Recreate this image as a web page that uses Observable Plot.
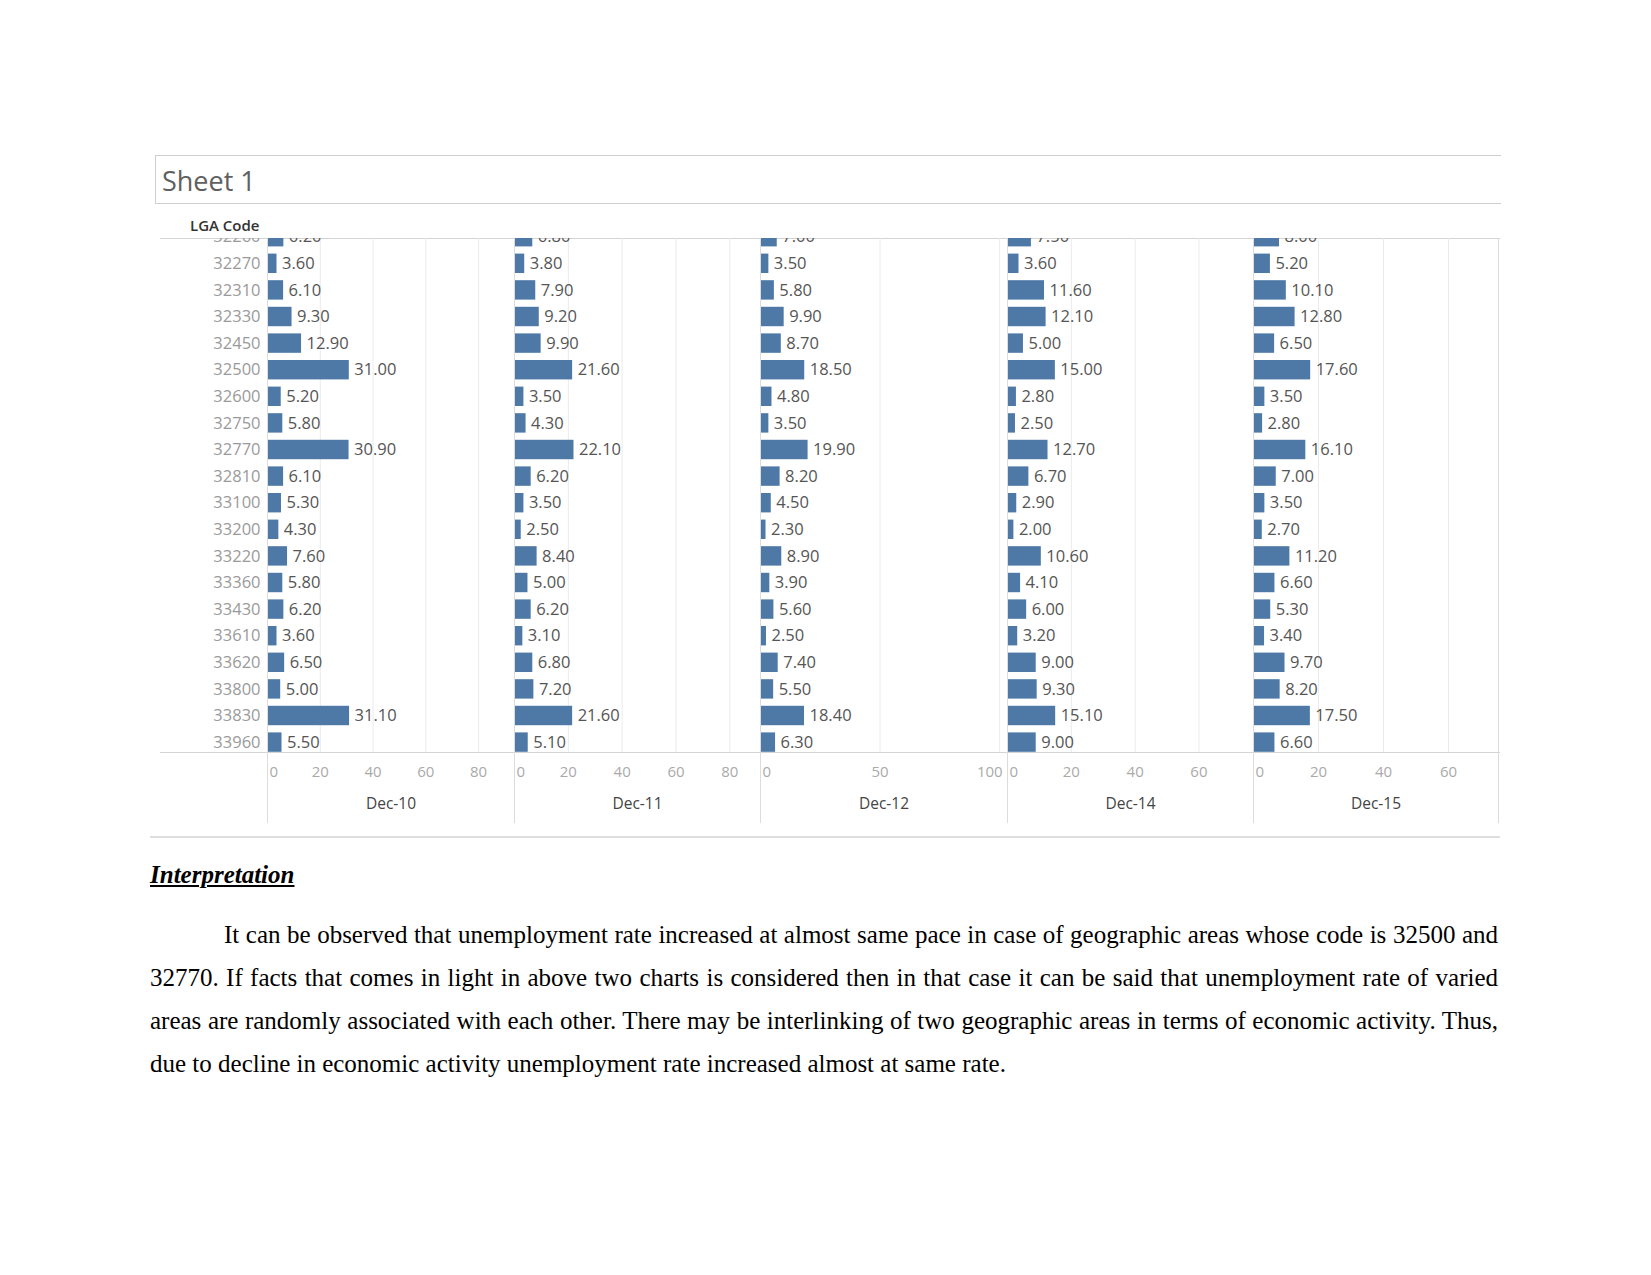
<!DOCTYPE html>
<html>
<head>
<meta charset="utf-8">
<script src="https://cdn.jsdelivr.net/npm/d3@7"></script>
<script src="https://cdn.jsdelivr.net/npm/@observablehq/plot@0.6"></script>
<style>
html, body { margin: 0; padding: 0; background: #fff; }
#page { position: relative; width: 1651px; height: 1275px; overflow: hidden; font-family: "Open Sans", sans-serif; }
.abs { position: absolute; }
#sheet { left: 155px; top: 155px; width: 1345px; height: 47px; border-top: 1.5px solid #cfcfcf; border-left: 1.5px solid #cfcfcf; border-bottom: 1.5px solid #cfcfcf; }
#sheetTitle { left: 162px; top: 164px; font-size: 27px; color: #606060; line-height: 34px; }
#lga { left: 190px; top: 215px; font-size: 15px; font-weight: 600; color: #333; line-height: 20px; }
.hline { background: #d4d4d4; height: 1px; }
.vline { background: #dcdcdc; width: 1px; }
#rule { left: 150px; top: 836px; width: 1350px; height: 2px; background: #dedede; }
#interp { left: 150px; top: 862px; font-family: "Liberation Serif", "Times New Roman", serif; font-size: 25px; font-weight: bold; font-style: italic; text-decoration: underline; line-height: 25px; color: #000; }
#para { left: 150px; top: 913px; width: 1348px; font-family: "Liberation Serif", "Times New Roman", serif; font-size: 25px; line-height: 43px; text-align: justify; text-indent: 74px; color: #000; }
</style>
</head>
<body>
<div id="page">
  <div id="sheet" class="abs"></div>
  <div id="sheetTitle" class="abs">Sheet 1</div>
  <div id="lga" class="abs">LGA Code</div>
  <div class="abs hline" style="left:160px;top:238px;width:1340px;"></div>
  <div class="abs hline" style="left:160px;top:752px;width:1340px;"></div>
  <div id="rule" class="abs"></div>
  <div id="interp" class="abs">Interpretation</div>
  <div id="para" class="abs">It can be observed that unemployment rate increased at almost same pace in case of geographic areas whose code is 32500 and 32770. If facts that comes in light in above two charts is considered then in that case it can be said that unemployment rate of varied areas are randomly associated with each other. There may be interlinking of two geographic areas in terms of economic activity. Thus, due to decline in economic activity unemployment rate increased almost at same rate.</div>
</div>
<script>
// ---- Data ----
const codes = ["32260","32270","32310","32330","32450","32500","32600","32750","32770","32810",
               "33100","33200","33220","33360","33430","33610","33620","33800","33830","33960"];
const periods = ["Dec-10","Dec-11","Dec-12","Dec-14","Dec-15"];
const dec10 = [6.20, 3.60, 6.10, 9.30, 12.90, 31.00, 5.20, 5.80, 30.90, 6.10, 5.30, 4.30, 7.60, 5.80, 6.20, 3.60, 6.50, 5.00, 31.10, 5.50];
const dec11 = [6.80, 3.80, 7.90, 9.20, 9.90, 21.60, 3.50, 4.30, 22.10, 6.20, 3.50, 2.50, 8.40, 5.00, 6.20, 3.10, 6.80, 7.20, 21.60, 5.10];
const dec12 = [7.00, 3.50, 5.80, 9.90, 8.70, 18.50, 4.80, 3.50, 19.90, 8.20, 4.50, 2.30, 8.90, 3.90, 5.60, 2.50, 7.40, 5.50, 18.40, 6.30];
const dec14 = [7.50, 3.60, 11.60, 12.10, 5.00, 15.00, 2.80, 2.50, 12.70, 6.70, 2.90, 2.00, 10.60, 4.10, 6.00, 3.20, 9.00, 9.30, 15.10, 9.00];
const dec15 = [8.00, 5.20, 10.10, 12.80, 6.50, 17.60, 3.50, 2.80, 16.10, 7.00, 3.50, 2.70, 11.20, 6.60, 5.30, 3.40, 9.70, 8.20, 17.50, 6.60];
const series = [dec10, dec11, dec12, dec14, dec15];
const axisMax = [93.6, 91.4, 103.3, 77.1, 75.4];
const tickValues = [[0,20,40,60,80],[0,20,40,60,80],[0,50,100],[0,20,40,60],[0,20,40,60]];

// ---- Layout ----
const page = document.getElementById("page");
const panelLefts = [267, 514, 760, 1007, 1253];
const panelRight = 1498;
const top0 = 238, plotH = 585, mB = 71;
const barColor = "#4e79a7";
const yScale = {type: "band", domain: codes, range: [-14.6, 517.4], paddingInner: 0.27, paddingOuter: 0.135, align: 0.5, round: false, axis: null};
const font = {fontFamily: "Open Sans, sans-serif", background: "transparent", overflow: "hidden"};

function place(node, left, top) {
  const wrap = document.createElement("div");
  wrap.className = "abs";
  wrap.style.left = left + "px";
  wrap.style.top = top + "px";
  wrap.appendChild(node);
  page.appendChild(wrap);
}

// row labels
const labelPlot = Plot.plot({
  width: 102, height: plotH,
  marginTop: 0, marginBottom: mB, marginLeft: 0, marginRight: 0,
  y: yScale,
  style: font,
  marks: [
    Plot.text(codes, {y: d => d, text: d => d, frameAnchor: "right", dx: -2, textAnchor: "end",
      fontSize: 16.5, fill: "#9a9a9a", clip: true})
  ]
});
place(labelPlot, 160, top0);

// panels
periods.forEach((p, k) => {
  const left = panelLefts[k];
  const w = (k < 4 ? panelLefts[k + 1] : panelRight) - left;
  const rows = codes.map((c, i) => ({code: c, v: series[k][i]}));
  const ticks = tickValues[k];
  const last = ticks[ticks.length - 1];
  const lastIsEdge = last / axisMax[k] > 0.94;
  const midTicks = ticks.filter(t => t > 0 && !(lastIsEdge && t === last));
  const marks = [
    Plot.gridX({ticks: ticks.filter(t => t > 0), stroke: "#ebebeb", strokeOpacity: 1}),
    Plot.barX(rows, {x: "v", y: "code", fill: barColor, clip: true}),
    Plot.text(rows, {x: "v", y: "code", text: d => d.v.toFixed(2), dx: 5, textAnchor: "start",
      fontSize: 16.5, fill: "#555", clip: true}),
    Plot.axisX({ticks: [0], tickSize: 0, tickPadding: 14, textAnchor: "start", dx: 2, fontSize: 15, fill: "#aaa", label: null}),
    Plot.axisX({ticks: midTicks, tickSize: 0, tickPadding: 14, fontSize: 15, fill: "#aaa", label: null}),
    Plot.text([p], {text: d => d, frameAnchor: "bottom", dy: 52, lineAnchor: "middle", fontSize: 15.5, fill: "#444"})
  ];
  if (lastIsEdge) marks.push(Plot.axisX({ticks: [last], tickSize: 0, tickPadding: 14, textAnchor: "end", dx: 3, fontSize: 15, fill: "#aaa", label: null}));
  const chart = Plot.plot({
    width: w, height: plotH,
    marginTop: 0, marginBottom: mB, marginLeft: 0, marginRight: 0,
    x: {domain: [0, axisMax[k]], axis: null},
    y: yScale,
    style: font,
    marks
  });
  place(chart, left, top0);
  const v = document.createElement("div");
  v.className = "abs vline";
  v.style.left = left + "px"; v.style.top = top0 + "px"; v.style.height = plotH + "px";
  page.appendChild(v);
});
const rv = document.createElement("div");
rv.className = "abs vline";
rv.style.left = panelRight + "px"; rv.style.top = top0 + "px"; rv.style.height = plotH + "px";
page.appendChild(rv);
</script>
</body>
</html>
